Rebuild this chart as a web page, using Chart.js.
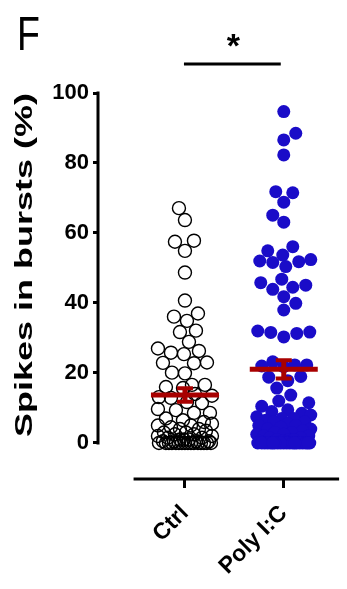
<!DOCTYPE html>
<html>
<head>
  <meta charset="UTF-8">
  <title>Spikes in bursts</title>
  <script src="https://cdn.jsdelivr.net/npm/chart.js"></script>
  <style>
    html, body { margin: 0; padding: 0; background: #fff; }
    canvas { display: block; }
  </style>
</head>
<body>
  <canvas id="burstChart" width="347" height="589"></canvas>

  <script>
    const groups = ['Ctrl', 'Poly I:C'];
    const yTicks = [0, 20, 40, 60, 80, 100];
    const panelLabel = 'F';
    const sigLabel = '*';
    const yTitle = 'Spikes in bursts (%)';

    // % spikes in bursts, one value per cell
    const ctrlValues = [
      67.1, 63.7, 57.8, 57.5, 54.9, 48.7, 40.7, 37.0, 36.1, 34.9, 32.1, 31.7,
      28.9, 27.0, 26.3, 25.8, 25.4, 23.0, 22.8, 22.9, 20.1, 19.9,
      16.6, 15.7, 16.0, 16.6, 14.0, 13.5, 13.1, 12.9, 11.7, 11.4, 9.7, 8.6, 8.6, 9.4,
      7, 6.5, 6, 5.5, 5, 5, 4.5, 4, 4, 3.5, 3, 3, 2.5, 2.5, 2, 2, 1.5, 1.5,
      1, 1, 1, 0.5, 0.5, 0.5, 0.5,
      0, 0, 0, 0, 0, 0, 0, 0, 0, 0, 0, 0, 0, 0, 0, 0
    ];
    const polyValues = [
      94.7, 88.5, 86.6, 82.3, 71.8, 71.5, 68.8, 65.1, 63.1, 56.1, 54.9, 53.7,
      51.8, 51.6, 52.0, 52.4, 50.4, 43.9, 45.8, 44.5, 45.1, 46.8, 41.8, 39.9, 38.0,
      32.0, 31.6, 30.3, 31.3, 31.7, 23.2, 22.3, 22.0, 21.8, 22.3, 19.0, 17.8, 18.8,
      15.7, 13.7, 11.5, 12.0,
      10.5, 9.5, 9, 8.5, 8, 7.5, 7, 7, 6.5, 6, 6, 5.5, 5, 5, 4.5, 4, 4, 3.5,
      3, 3, 2.5, 2.5, 2, 2, 1.5, 1.5, 1, 1, 1, 0.5, 0.5, 0.5,
      0, 0, 0, 0, 0, 0, 0, 0, 0, 0, 0, 0, 0, 0, 0, 0, 0, 0, 0, 0
    ];

    const meanColor = '#a80000';

    function stats(v) {
      const n = v.length;
      const m = v.reduce((a, b) => a + b, 0) / n;
      const sd = Math.sqrt(v.reduce((a, b) => a + (b - m) * (b - m), 0) / (n - 1));
      return { mean: m, sem: sd / Math.sqrt(n) };
    }

    // simple beeswarm: spread points sideways so they don't pile up
    function swarm(values, pxX, pxY) {
      const order = values.map((v, i) => i).sort((a, b) => values[a] - values[b]);
      const placed = [];
      const offsets = new Array(values.length).fill(0);
      let side = 1;
      order.forEach(i => {
        const y = values[i] * pxY;
        let pick = null, fallback = 0, fallbackD = -1;
        for (let s = 0; s <= 27 && pick === null; s++) {
          for (const x of (s ? [s * side, -s * side] : [0])) {
            let d = Infinity;
            placed.forEach(p => { d = Math.min(d, Math.hypot(p.x - x, p.y - y)); });
            if (d >= 13) { pick = x; break; }
            if (d > fallbackD) { fallbackD = d; fallback = x; }
          }
        }
        if (pick === null) pick = fallback;
        if (pick !== 0) side = -Math.sign(pick);
        placed.push({ x: pick, y: y });
        offsets[i] = pick / pxX;
      });
      return offsets;
    }

    const extras = {
      id: 'extras',
      afterDatasetsDraw(chart) {
        const { ctx, scales: { x, y } } = chart;
        ctx.save();
        ctx.strokeStyle = meanColor;
        [ctrlValues, polyValues].forEach((vals, i) => {
          const s = stats(vals);
          const cx = x.getPixelForValue(i);
          const my = y.getPixelForValue(s.mean);
          const hi = y.getPixelForValue(s.mean + s.sem);
          const lo = y.getPixelForValue(s.mean - s.sem);
          ctx.lineWidth = 5;
          ctx.beginPath();
          ctx.moveTo(cx - 34, my); ctx.lineTo(cx + 34, my);
          ctx.stroke();
          ctx.beginPath();
          ctx.moveTo(cx, hi); ctx.lineTo(cx, lo);
          ctx.stroke();
          ctx.lineWidth = 4;
          ctx.beginPath();
          ctx.moveTo(cx - 8, hi); ctx.lineTo(cx + 8, hi);
          ctx.moveTo(cx - 8, lo); ctx.lineTo(cx + 8, lo);
          ctx.stroke();
        });
        ctx.restore();
      },
      afterDraw(chart) {
        const { ctx, chartArea, scales: { x, y } } = chart;
        ctx.save();
        ctx.strokeStyle = '#000';
        ctx.fillStyle = '#000';
        ctx.lineWidth = 3;
        // y axis line
        ctx.beginPath();
        ctx.moveTo(chartArea.left, y.getPixelForValue(100) - 1.5);
        ctx.lineTo(chartArea.left, y.getPixelForValue(0) + 1.5);
        ctx.stroke();
        // x axis line (offset from the y axis)
        ctx.beginPath();
        ctx.moveTo(x.getPixelForValue(-0.52), chartArea.bottom);
        ctx.lineTo(chartArea.right, chartArea.bottom);
        ctx.stroke();
        // significance bar
        const x0 = x.getPixelForValue(0), x1 = x.getPixelForValue(1);
        ctx.beginPath();
        ctx.moveTo(x0 - 1, 64); ctx.lineTo(x1 - 3, 64);
        ctx.stroke();
        ctx.font = 'bold 34px "Liberation Sans", Arial, sans-serif';
        ctx.textAlign = 'center';
        ctx.textBaseline = 'alphabetic';
        ctx.fillText(sigLabel, (x0 + x1) / 2 - 1, 57);
        // panel letter
        ctx.save();
        ctx.translate(17, 50);
        ctx.scale(0.78, 1);
        ctx.font = '48px "Liberation Sans", Arial, sans-serif';
        ctx.textAlign = 'left';
        ctx.fillText(panelLabel, 0, 0);
        ctx.restore();
        // y axis title, stretched along its length
        ctx.save();
        ctx.translate(32, 93);
        ctx.rotate(-Math.PI / 2);
        ctx.scale(1.5, 1);
        ctx.font = 'bold 24px "Liberation Sans", Arial, sans-serif';
        ctx.textAlign = 'right';
        ctx.fillText(yTitle, 0, 0);
        ctx.restore();
        ctx.restore();
      }
    };

    const ctx = document.getElementById('burstChart').getContext('2d');
    const chart = new Chart(ctx, {
      type: 'scatter',
      data: {
        datasets: [
          {
            label: groups[0],
            data: ctrlValues.map(v => ({ x: 0, y: v })),
            pointRadius: 6.5,
            pointBorderWidth: 1.4,
            pointBorderColor: '#000',
            pointBackgroundColor: 'rgba(0,0,0,0)'
          },
          {
            label: groups[1],
            data: polyValues.map(v => ({ x: 1, y: v })),
            pointRadius: 6.5,
            pointBorderWidth: 0,
            pointBackgroundColor: '#1a0cc8'
          }
        ]
      },
      options: {
        responsive: false,
        animation: false,
        layout: { padding: { top: 93, left: 0, right: 0, bottom: 0 } },
        plugins: { legend: { display: false }, tooltip: { enabled: false } },
        scales: {
          x: {
            type: 'linear',
            min: -0.88,
            max: 1.56,
            afterBuildTicks: s => { s.ticks = groups.map((g, i) => ({ value: i })); },
            afterFit: s => { s.height = 110; },
            border: { display: false },
            grid: { drawOnChartArea: false, drawTicks: true, tickLength: 9, lineWidth: 3, color: '#000' },
            ticks: {
              autoSkip: false,
              minRotation: 45,
              maxRotation: 45,
              padding: 12,
              color: '#000',
              font: { family: '"Liberation Sans", Arial, sans-serif', size: 23, weight: 'bold' },
              callback: v => groups[v]
            }
          },
          y: {
            min: -10.29,
            max: 100,
            afterBuildTicks: s => { s.ticks = yTicks.map(v => ({ value: v })); },
            afterFit: s => { s.width = 98; },
            border: { display: false },
            grid: { drawOnChartArea: false, drawTicks: true, tickLength: 5, lineWidth: 3, color: '#000' },
            ticks: {
              padding: 4,
              color: '#000',
              font: { family: '"Liberation Sans", Arial, sans-serif', size: 22, weight: 'bold' }
            }
          }
        }
      },
      plugins: [extras]
    });

    // spread the dots once the scales are known
    const pxX = chart.scales.x.getPixelForValue(1) - chart.scales.x.getPixelForValue(0);
    const pxY = chart.scales.y.getPixelForValue(0) - chart.scales.y.getPixelForValue(1);
    [ctrlValues, polyValues].forEach((vals, i) => {
      const off = swarm(vals, pxX, pxY);
      chart.data.datasets[i].data = vals.map((v, j) => ({ x: i + off[j], y: v }));
    });
    chart.update();
  </script>
</body>
</html>
